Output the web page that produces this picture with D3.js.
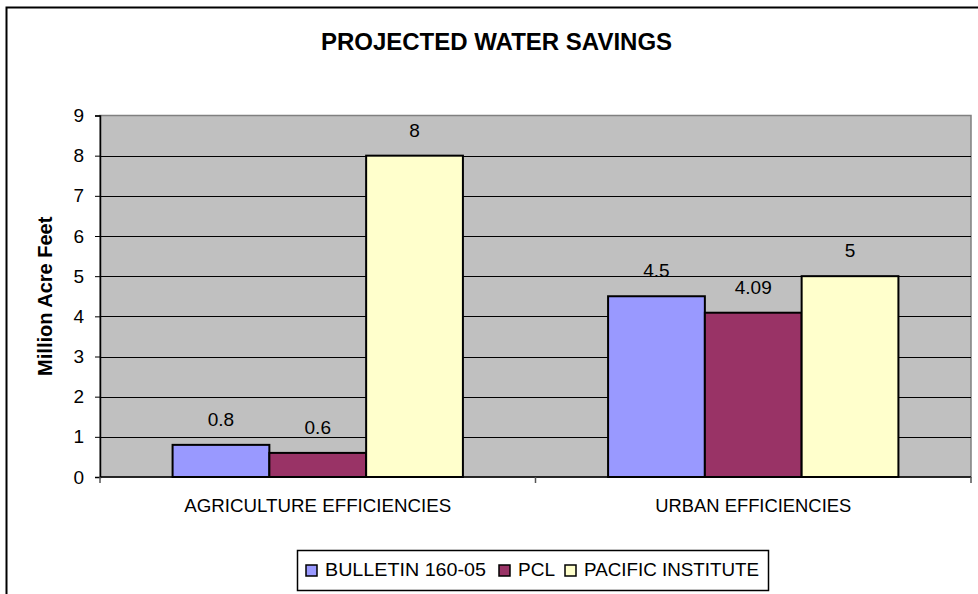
<!DOCTYPE html>
<meta charset="utf-8">
<script src="https://d3js.org/d3.v7.min.js"></script>
<style>
body { margin: 0; background: #fff; }
svg { display: block; font-family: "Liberation Sans", Arial, sans-serif; }
.tick-label { font-size: 19px; fill: #000; }
</style>
<body>
</body>
<script>

// categories, series and values
var categories = ["AGRICULTURE EFFICIENCIES", "URBAN EFFICIENCIES"];
var seriesNames = ["BULLETIN 160-05", "PCL", "PACIFIC INSTITUTE"];
var seriesColors = ["#9999FF", "#993366", "#FFFFCC"];
var bulletin = [0.8, 4.5];
var pcl = [0.6, 4.09];
var pacific = [8, 5];
var yTicks = [0, 1, 2, 3, 4, 5, 6, 7, 8, 9];

var seriesValues = [bulletin, pcl, pacific];

var width = 978, height = 594;

var svg = d3.select("body").append("svg")
  .attr("width", width)
  .attr("height", height);

// chart area border (runs off the right and bottom of the picture)
svg.append("rect")
  .attr("x", 6.5).attr("y", 7.5)
  .attr("width", 990).attr("height", 600)
  .attr("fill", "#fff")
  .attr("stroke", "#000")
  .attr("stroke-width", 2);

var plot = { left: 100, right: 971, top: 115.5, bottom: 477 };

var x0 = d3.scaleBand()
  .domain(categories)
  .range([plot.left, plot.right])
  .padding(0);

var x1 = d3.scaleBand()
  .domain(seriesNames)
  .range([0, x0.bandwidth()])
  .paddingInner(0)
  .paddingOuter(0.75);

var y = d3.scaleLinear()
  .domain([0, 9])
  .range([plot.bottom, plot.top]);

// plot area
svg.append("rect")
  .attr("x", plot.left).attr("y", plot.top)
  .attr("width", plot.right - plot.left)
  .attr("height", plot.bottom - plot.top)
  .attr("fill", "#C0C0C0")
  .attr("stroke", "#808080")
  .attr("stroke-width", 1.5);

// gridlines
svg.append("g").selectAll("line")
  .data(yTicks.filter(function(d) { return d > 0 && d < 9; }))
  .enter().append("line")
  .attr("x1", plot.left).attr("x2", plot.right)
  .attr("y1", function(d) { return Math.round(y(d)) + 0.5; })
  .attr("y2", function(d) { return Math.round(y(d)) + 0.5; })
  .attr("stroke", "#000")
  .attr("stroke-width", 1);

// bars
var rows = categories.map(function(c, i) {
  return { cat: c, vals: seriesNames.map(function(s, j) {
    return { name: s, value: seriesValues[j][i], color: seriesColors[j] };
  }) };
});

var groups = svg.selectAll(".catGroup")
  .data(rows).enter().append("g")
  .attr("class", "catGroup")
  .attr("transform", function(d) { return "translate(" + x0(d.cat) + ",0)"; });

groups.selectAll("rect")
  .data(function(d) { return d.vals; })
  .enter().append("rect")
  .attr("x", function(d) { return x1(d.name); })
  .attr("y", function(d) { return y(d.value); })
  .attr("width", x1.bandwidth())
  .attr("height", function(d) { return y(0) - y(d.value); })
  .attr("fill", function(d) { return d.color; })
  .attr("stroke", "#000")
  .attr("stroke-width", 2);

groups.selectAll("text")
  .data(function(d) { return d.vals; })
  .enter().append("text")
  .attr("class", "tick-label")
  .attr("x", function(d) { return x1(d.name) + x1.bandwidth() / 2; })
  .attr("y", function(d) { return y(d.value) - 19; })
  .attr("text-anchor", "middle")
  .text(function(d) { return d.value; });

// y axis
var yAxis = d3.axisLeft(y).tickValues(yTicks).tickSize(5).tickPadding(11);
var gy = svg.append("g")
  .attr("transform", "translate(" + plot.left + ",0)")
  .call(yAxis);
gy.select(".domain").attr("stroke", "#000").attr("stroke-width", 1.5);
gy.selectAll(".tick line").attr("stroke", "#000");
gy.selectAll(".tick text")
  .attr("class", "tick-label")
  .style("font-family", "Liberation Sans, Arial, sans-serif")
  .attr("fill", "#000");

// x axis: ticks at category boundaries
var gx = svg.append("g");
gx.append("line")
  .attr("x1", plot.left).attr("x2", plot.right)
  .attr("y1", plot.bottom).attr("y2", plot.bottom)
  .attr("stroke", "#000").attr("stroke-width", 1.5);
var bounds = categories.map(function(c) { return x0(c); }).concat([plot.right]);
gx.selectAll(".xtick")
  .data(bounds).enter().append("line")
  .attr("class", "xtick")
  .attr("x1", function(d) { return d; }).attr("x2", function(d) { return d; })
  .attr("y1", plot.bottom).attr("y2", plot.bottom + 6)
  .attr("stroke", "#555").attr("stroke-width", 1.5);
gx.selectAll(".catLabel")
  .data(categories).enter().append("text")
  .attr("class", "tick-label")
  .attr("x", function(d) { return x0(d) + x0.bandwidth() / 2; })
  .attr("y", 512)
  .attr("text-anchor", "middle")
  .attr("textLength", function(d, i) { return i === 0 ? 267 : 196; })
  .attr("lengthAdjust", "spacingAndGlyphs")
  .text(function(d) { return d; });

// title
svg.append("text")
  .attr("x", 496.5).attr("y", 50)
  .attr("text-anchor", "middle")
  .style("font-size", "24px")
  .style("font-weight", "bold")
  .text("PROJECTED WATER SAVINGS");

// y axis title
svg.append("text")
  .attr("transform", "translate(52," + ((plot.top + plot.bottom) / 2) + ") rotate(-90)")
  .attr("text-anchor", "middle")
  .style("font-size", "20px")
  .style("font-weight", "bold")
  .text("Million Acre Feet");

// legend
var legend = svg.append("g");
legend.append("rect")
  .attr("x", 297.5).attr("y", 550.5)
  .attr("width", 471).attr("height", 40)
  .attr("fill", "#fff")
  .attr("stroke", "#000")
  .attr("stroke-width", 1.5);

var legendX = [306, 499, 565];
var items = legend.selectAll(".legItem")
  .data(seriesNames).enter().append("g")
  .attr("class", "legItem")
  .attr("transform", function(d, i) { return "translate(" + legendX[i] + ",0)"; });
items.append("rect")
  .attr("x", 0).attr("y", 565)
  .attr("width", 11).attr("height", 11)
  .attr("fill", function(d, i) { return seriesColors[i]; })
  .attr("stroke", "#000").attr("stroke-width", 1.5);
items.append("text")
  .attr("class", "tick-label")
  .attr("x", 19).attr("y", 576)
  .attr("textLength", function(d, i) { return [161, 37, 175][i]; })
  .attr("lengthAdjust", "spacingAndGlyphs")
  .text(function(d) { return d; });

</script>
